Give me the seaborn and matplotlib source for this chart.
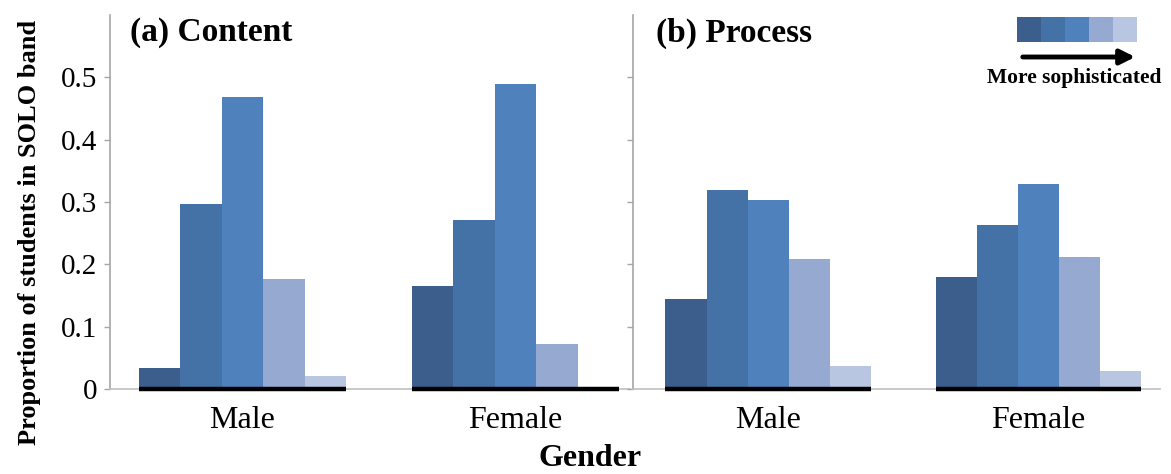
import matplotlib
matplotlib.use("Agg")
import matplotlib.pyplot as plt
import seaborn as sns
import pandas as pd
import numpy as np
from matplotlib.patches import Rectangle, FancyArrowPatch

genders = ["Male", "Female"]
bands = ["B1", "B2", "B3", "B4", "B5"]
content_male = [0.034, 0.296, 0.468, 0.176, 0.021]
content_female = [0.165, 0.271, 0.490, 0.072, 0.0]
process_male = [0.144, 0.320, 0.303, 0.208, 0.037]
process_female = [0.179, 0.263, 0.329, 0.212, 0.029]
palette = ["#3b5e8c", "#4472a6", "#4f81bd", "#95a9d1", "#b9c6e2"]
yticks = [0, 0.1, 0.2, 0.3, 0.4, 0.5]
ytick_labels = ["0", "0.1", "0.2", "0.3", "0.4", "0.5"]

def make_df(male, female):
    rows = []
    for g, vals in zip(genders, [male, female]):
        for b, v in zip(bands, vals):
            rows.append({"Gender": g, "Band": b, "Proportion": v})
    return pd.DataFrame(rows)

df_content = make_df(content_male, content_female)
df_process = make_df(process_male, process_female)

sns.set_theme(style="white")
plt.rcParams["font.family"] = ["Liberation Serif", "DejaVu Serif"]
plt.rcParams["text.color"] = "black"
plt.rcParams["xtick.color"] = "black"
plt.rcParams["ytick.color"] = "black"
plt.rcParams["xtick.labelcolor"] = "black"
plt.rcParams["ytick.labelcolor"] = "black"

fig = plt.figure(figsize=(11.71, 4.74), dpi=100)
W, H = 1171, 474
def ax_rect(x0, x1, ytop, ybot):
    return [x0 / W, 1 - ybot / H, (x1 - x0) / W, (ybot - ytop) / H]

ax1 = fig.add_axes(ax_rect(110, 630, 15, 389))
ax2 = fig.add_axes(ax_rect(633, 1160, 15, 389))

width = 0.76
for ax, df, title, xl, tx in [(ax1, df_content, "(a) Content", (-0.485, 1.42), 130),
                              (ax2, df_process, "(b) Process", (-0.5, 1.45), 656)]:
    sns.barplot(data=df, x="Gender", y="Proportion", hue="Band", order=genders,
                hue_order=bands, palette=palette, saturation=1, width=width,
                gap=0, ax=ax, legend=False, linewidth=0, edgecolor="none")
    ax.set_xlim(*xl)
    ax.set_ylim(0, 0.6)
    ax.set_yticks(yticks)
    for s in ["top", "right"]:
        ax.spines[s].set_visible(False)
    ax.spines["left"].set_color("#a6a6a6")
    ax.spines["left"].set_linewidth(1.2)
    ax.spines["bottom"].set_color("#bfbfbf")
    ax.spines["bottom"].set_linewidth(1.2)
    ax.tick_params(axis="y", left=True, length=4, width=1, color="#a6a6a6",
                   direction="out", labelsize=21, pad=5, labelcolor="black")
    ax.tick_params(axis="x", bottom=False, labelsize=23, pad=6, labelcolor="black")
    ax.set_xlabel("")
    ax.set_ylabel("")
    for i in range(len(genders)):
        ax.hlines(0, i - width / 2, i + width / 2, color="black", linewidth=3.2,
                  zorder=5, clip_on=False)
    fig.text(tx / W, 1 - 33 / H, title, fontsize=24, fontweight="bold",
             va="center", ha="left", color="black")

ax1.set_yticklabels(ytick_labels)
ax2.set_yticklabels([])

fig.text(30 / W, 0.51, "Proportion of students in SOLO band", rotation=90,
         ha="center", va="center", fontsize=19, fontweight="bold", color="black")
fig.text(590 / W, 1 - 473 / H, "Gender", ha="center", va="bottom",
         fontsize=23, fontweight="bold", color="black")

# legend: colour strip with arrow
sw = 24 / W
sh = 25 / H
x0 = 1017 / W
y0 = 1 - 42 / H
for k, c in enumerate(palette):
    fig.patches.append(Rectangle((x0 + k * sw, y0), sw, sh, transform=fig.transFigure,
                                 facecolor=c, edgecolor="none"))
arrow = FancyArrowPatch((1020 / W, 1 - 57 / H), (1138 / W, 1 - 57 / H),
                        transform=fig.transFigure, arrowstyle="-|>",
                        mutation_scale=22, linewidth=3.5, color="black")
fig.patches.append(arrow)
fig.text(1074 / W, 1 - 78 / H, "More sophisticated", ha="center", va="center",
         fontsize=15.5, fontweight="bold", color="black")

fig.savefig("out.png", dpi=100)
